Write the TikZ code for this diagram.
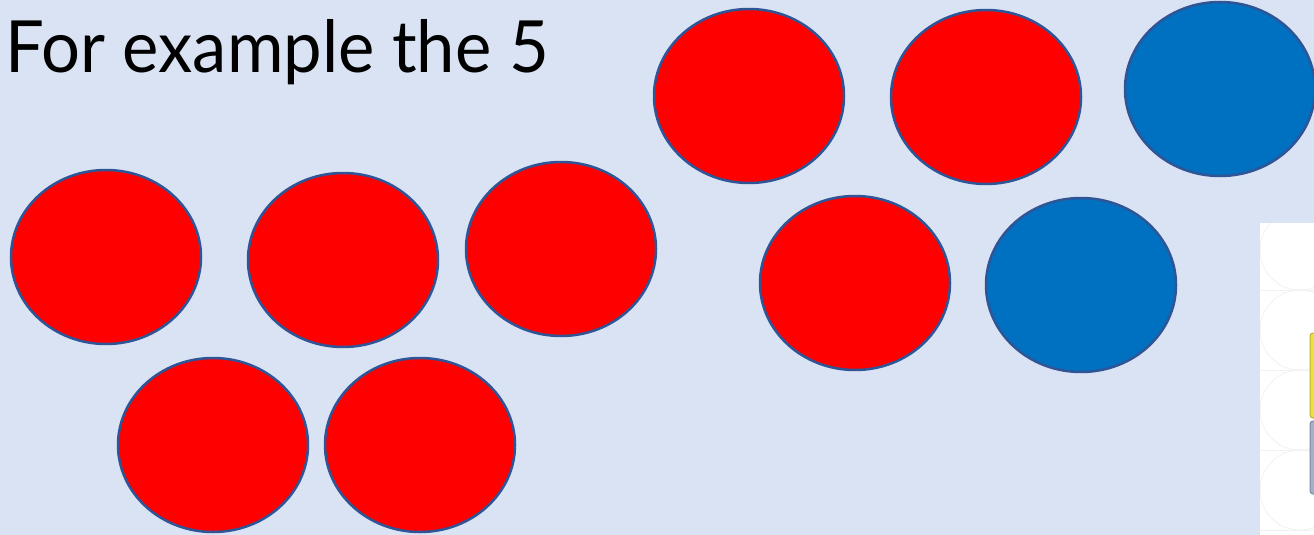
\documentclass[tikz,border=0pt]{standalone}
\usepackage{fontspec}
\setmainfont{Lato}
\usetikzlibrary{shapes.geometric}
\definecolor{bg}{HTML}{DAE3F3}
\definecolor{cred}{HTML}{FF0000}
\definecolor{cblue}{HTML}{0070C0}
\definecolor{edge}{HTML}{2F5597}
\definecolor{patt}{HTML}{F2F2F2}
\definecolor{ylw}{HTML}{E8E23A}
\definecolor{ylwedge}{HTML}{B9B43A}
\definecolor{gblue}{HTML}{A3B0CB}
\definecolor{gbedge}{HTML}{7F8AA3}
\tikzset{
  counter/.style={ellipse, draw=edge, line width=2.5pt, minimum width=190pt, minimum height=174pt, inner sep=0pt},
  redc/.style={counter, fill=cred},
  bluec/.style={counter, fill=cblue},
}
\begin{document}
\begin{tikzpicture}[x=1pt,y=-1pt]
\useasboundingbox (0,0) rectangle (1314,535);
\fill[bg] (0,0) rectangle (1314,535);
% picture at right edge
\begin{scope}
\clip (1260,223) rectangle (1314,535);
\fill[white] (1260,223) rectangle (1314,535);
\foreach \yy in {250,330,410,490} {
  \draw[patt, line width=0.8pt] (1300,\yy) circle (40pt);
  \draw[patt, line width=0.8pt] (1260,\yy+40) -- (1314,\yy+40);
}
\draw[ylwedge, fill=ylw, line width=1pt, rounded corners=3pt] (1310,333) rectangle (1330,418);
\draw[gbedge, fill=gblue, line width=1pt, rounded corners=3pt] (1310,421) rectangle (1330,494);
\end{scope}
\node[anchor=base west, inner sep=0pt, xscale=0.955, font=\fontsize{72}{80}\selectfont] (title) at (5,72) {For example the 5};
\node[redc] (r1) at (106,257) {};
\node[redc] (r2) at (343,260) {};
\node[redc] (r3) at (561,249) {};
\node[redc] (r4) at (213,445) {};
\node[redc] (r5) at (420,445) {};
\node[redc] (r6) at (749,96) {};
\node[redc] (r7) at (986,97) {};
\node[bluec] (b1) at (1220,89) {};
\node[redc] (r8) at (855,283) {};
\node[bluec] (b2) at (1081,285) {};
\end{tikzpicture}
\end{document}
